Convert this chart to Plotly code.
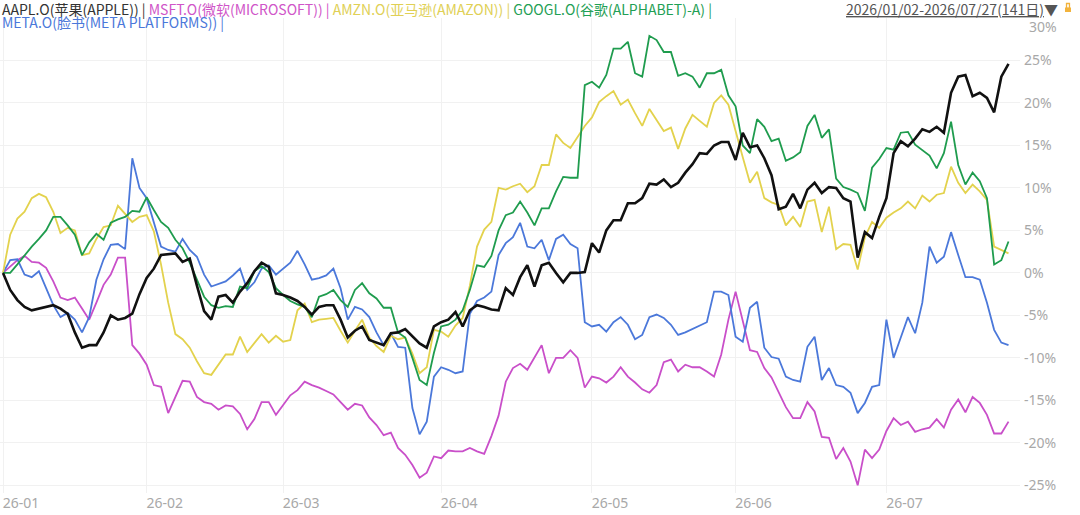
import pandas as pd
import plotly.graph_objects as go

# ── data: cumulative return (%) per trading day, 2026/01/02 – 2026/07/27 ─────
HOLIDAYS = ["2026-01-19", "2026-02-16", "2026-04-03", "2026-05-25", "2026-06-19", "2026-07-03"]

NAMES = ["AAPL.O(苹果(APPLE))", "MSFT.O(微软(MICROSOFT))", "AMZN.O(亚马逊(AMAZON))",
         "GOOGL.O(谷歌(ALPHABET)-A)", "META.O(脸书(META PLATFORMS))"]

AAPL = [0.0, -2.0, -3.2, -4.0, -4.4, -4.2, -4.0, -3.8, -4.2, -4.8,
        -7.0, -8.8, -8.5, -8.5, -7.0, -5.0, -5.5, -5.3, -4.8, -2.5,
        -0.6, 0.5, 2.1, 2.2, 2.3, 1.3, 1.7, -1.5, -4.5, -5.5,
        -2.8, -2.6, -3.5, -2.2, -1.2, 0.2, 1.2, 0.7, -2.4, -2.6,
        -2.9, -3.3, -4.0, -4.9, -4.0, -3.8, -3.8, -5.5, -7.6, -6.8,
        -6.3, -7.9, -8.2, -8.5, -7.1, -7.0, -6.6, -7.5, -8.3, -8.8,
        -6.3, -5.8, -5.5, -4.6, -6.3, -4.4, -3.8, -4.0, -4.3, -4.4,
        -1.8, -2.6, -0.5, 0.9, -1.6, 0.9, 1.2, 0.0, -1.1, 0.0,
        0.0, 0.1, 3.5, 2.4, 5.0, 6.2, 6.2, 8.2, 8.2, 8.8,
        10.5, 10.4, 11.0, 10.1, 10.6, 11.8, 12.8, 14.1, 14.0, 15.0,
        15.4, 15.4, 13.3, 16.5, 14.8, 15.0, 13.5, 11.5, 7.5, 7.8,
        9.3, 7.6, 9.8, 10.6, 9.4, 10.1, 10.0, 8.8, 8.4, 1.8,
        4.8, 4.1, 6.6, 8.8, 14.1, 15.5, 14.9, 15.8, 16.9, 16.6,
        17.2, 16.5, 21.2, 23.1, 23.3, 20.8, 21.2, 20.6, 18.9, 23.1,
        24.6]

MSFT = [0.0, 0.8, 1.5, 2.0, 1.3, 1.2, 0.6, -1.0, -2.9, -3.2,
        -2.9, -4.2, -5.5, -3.5, -1.4, -0.2, 1.8, 1.8, -8.5, -9.5,
        -10.8, -13.2, -13.4, -16.5, -14.6, -12.7, -12.8, -14.6, -15.2, -15.4,
        -16.1, -15.6, -15.7, -16.6, -18.4, -17.2, -15.2, -15.2, -16.7, -15.5,
        -14.4, -13.8, -12.8, -13.2, -13.5, -13.9, -14.3, -15.2, -16.1, -15.4,
        -15.6, -17.0, -17.9, -19.1, -18.8, -20.6, -21.4, -22.6, -24.1, -23.5,
        -21.6, -21.8, -20.9, -21.0, -21.0, -20.6, -21.0, -21.3, -19.2, -16.8,
        -12.8, -11.2, -10.7, -11.4, -10.0, -8.5, -11.8, -10.0, -10.0, -9.1,
        -10.0, -13.5, -12.2, -12.4, -12.9, -12.2, -11.1, -12.2, -12.9, -13.7,
        -14.1, -13.2, -10.5, -10.2, -11.6, -10.8, -11.1, -11.1, -11.6, -12.2,
        -9.6, -5.5, -2.2, -5.5, -9.1, -9.3, -11.2, -12.3, -14.1, -15.8,
        -17.1, -17.1, -15.2, -16.3, -19.3, -19.4, -21.9, -20.6, -22.2, -25.0,
        -20.8, -21.8, -20.8, -18.6, -17.1, -17.9, -17.5, -18.7, -18.4, -18.2,
        -17.2, -18.2, -16.1, -14.9, -16.4, -14.6, -15.3, -16.7, -18.9, -18.9,
        -17.5]

AMZN = [0.0, 4.5, 6.4, 7.2, 8.8, 9.3, 8.9, 7.2, 4.7, 5.3,
        5.0, 2.1, 2.3, 4.0, 5.4, 5.6, 7.9, 7.0, 6.0, 6.6,
        6.8, 4.9, 1.0, -3.5, -7.2, -7.8, -8.8, -10.4, -11.8, -12.0,
        -10.8, -9.6, -9.6, -7.5, -9.3, -8.2, -7.2, -8.2, -7.4, -8.1,
        -7.9, -4.4, -3.6, -5.8, -5.5, -5.4, -5.3, -6.8, -8.2, -6.8,
        -5.5, -7.6, -8.6, -9.3, -7.4, -7.8, -7.6, -9.5, -11.8, -11.1,
        -6.7, -6.9, -7.5, -6.2, -5.3, -1.5, 3.1, 5.1, 6.0, 10.0,
        9.8, 10.2, 10.5, 9.5, 10.2, 12.7, 12.7, 16.3, 15.3, 14.7,
        16.0, 17.3, 18.3, 20.1, 20.8, 21.4, 19.8, 20.4, 18.8, 17.3,
        19.3, 18.0, 16.7, 17.1, 14.6, 17.0, 18.6, 17.9, 17.2, 20.0,
        20.9, 19.8, 16.6, 13.6, 10.6, 11.9, 8.8, 8.3, 8.0, 5.6,
        6.6, 5.4, 8.4, 8.6, 4.8, 7.8, 2.8, 3.4, 3.3, 0.4,
        4.2, 6.0, 5.3, 6.5, 7.1, 7.6, 8.4, 7.6, 9.1, 8.4,
        9.2, 9.4, 12.5, 10.6, 9.4, 10.4, 9.6, 8.6, 3.1, 2.7,
        2.3]

GOOGL = [0.0, 0.0, 1.0, 2.1, 3.1, 4.0, 5.0, 6.6, 6.6, 5.6,
         4.5, 2.1, 3.6, 4.6, 3.9, 5.9, 6.3, 6.6, 7.3, 7.2,
         8.9, 7.4, 6.0, 5.3, 3.9, 2.9, 1.2, -0.8, -2.8, -3.8,
         -4.1, -3.9, -4.0, -1.6, -1.8, 0.2, 0.8, 0.1, -1.8, -2.6,
         -3.3, -3.7, -4.0, -5.2, -2.8, -2.5, -2.0, -3.2, -4.0, -2.0,
         -1.2, -2.4, -3.0, -4.1, -4.1, -7.0, -7.6, -10.0, -12.6, -13.2,
         -9.4, -6.3, -6.1, -5.5, -4.4, -2.0, 0.9, 0.7, 2.0, 5.0,
         6.8, 7.1, 8.4, 7.1, 5.6, 7.6, 7.6, 9.6, 11.3, 11.2,
         11.2, 22.1, 22.5, 21.8, 23.3, 26.4, 26.4, 27.2, 23.5, 23.1,
         27.9, 27.4, 26.0, 26.0, 23.2, 23.5, 23.1, 21.8, 23.5, 23.5,
         23.9, 20.9, 19.6, 15.0, 14.1, 18.1, 17.2, 15.5, 15.8, 13.2,
         13.6, 14.2, 17.3, 18.6, 15.9, 16.9, 11.1, 10.1, 9.8, 9.4,
         7.3, 12.4, 13.4, 14.7, 14.5, 16.5, 16.6, 15.1, 14.4, 13.8,
         12.3, 14.1, 17.8, 12.7, 10.4, 11.8, 10.8, 8.8, 1.0, 1.5,
         3.7]

META = [0.0, 1.5, 1.6, -0.2, -0.5, 0.2, -1.8, -3.8, -5.2, -4.7,
        -5.5, -7.0, -5.2, -0.8, 1.6, 3.3, 3.4, 2.8, 13.5, 10.0,
        8.8, 6.0, 3.1, 2.7, 2.5, 4.0, 2.7, 1.9, -0.2, -1.6,
        -1.3, -1.0, -0.3, 0.5, -2.0, -1.1, 0.5, 0.9, -0.2, 0.5,
        1.2, 2.6, 1.0, -0.8, -0.6, -0.3, 0.5, -1.8, -5.5, -4.0,
        -4.3, -5.2, -7.0, -8.5, -7.1, -8.7, -8.8, -15.9, -19.0, -17.5,
        -12.2, -11.1, -11.4, -11.8, -11.6, -4.8, -3.3, -2.9, -2.2, 2.1,
        3.5, 4.2, 5.9, 3.1, 2.9, 3.9, 1.5, 4.0, 4.5, 3.4,
        2.9, -5.8, -6.3, -6.1, -6.9, -5.8, -5.2, -6.1, -7.8, -7.3,
        -5.2, -4.9, -5.3, -6.1, -7.3, -7.0, -6.6, -6.2, -5.8, -2.2,
        -2.2, -2.6, -7.5, -8.1, -4.1, -3.4, -8.8, -9.9, -10.1, -12.2,
        -12.6, -12.8, -8.7, -7.5, -12.6, -11.2, -13.2, -13.4, -14.1, -16.5,
        -15.3, -13.4, -13.2, -5.5, -10.0, -7.6, -5.2, -7.1, -3.5, 3.1,
        1.2, 1.9, 4.8, 2.1, -0.5, -0.5, -0.8, -3.5, -6.7, -8.2,
        -8.5]

Y_TICKS = [25, 20, 15, 10, 5, 0, -5, -10, -15, -20, -25]

LINE_COLORS = ["#111111", "#C94FC9", "#E3D24D", "#1F9C4E", "#4B78DA"]
TEXT_COLORS = ["#333333", "#D055C8", "#E0D055", "#1FA055", "#4B78DA"]

# ── trading calendar ──────────────────────────────────────────────────────────
days = [d for d in pd.bdate_range("2026-01-02", "2026-07-27")
        if d.strftime("%Y-%m-%d") not in HOLIDAYS]
dates = [d.strftime("%Y-%m-%d") for d in days]
month_starts = [dates[i] for i in range(len(days)) if i == 0 or days[i].month != days[i - 1].month]
month_text = [pd.Timestamp(d).strftime("%y-%m") for d in month_starts]

fig = go.Figure()
series = [MSFT, META, AMZN, GOOGL, AAPL]
order = [1, 4, 2, 3, 0]
for vals, k in zip(series, order):
    fig.add_trace(go.Scatter(x=dates, y=vals, mode="lines", name=NAMES[k],
                             line=dict(color=LINE_COLORS[k], width=2.6 if k == 0 else 1.8),
                             showlegend=False))

TICK_FONT = dict(family="Noto Sans", size=14, color="#A8A8A8")

fig.update_layout(
    width=1080, height=515, autosize=False,
    paper_bgcolor="#FFFFFF", plot_bgcolor="#FFFFFF",
    margin=dict(l=0, r=60, t=18, b=22),
    xaxis=dict(type="category", range=[-0.42, 141.6], tickmode="array",
               tickvals=month_starts, ticktext=month_text, showgrid=True,
               gridcolor="#F1F1F1", gridwidth=1, zeroline=False, showline=False,
               ticks="", tickfont=TICK_FONT, ticklabelshift=18),
    yaxis=dict(side="right", range=[-25.9, 30], tickmode="array",
               tickvals=Y_TICKS, ticktext=[f"{v}%" for v in Y_TICKS],
               showgrid=True, gridcolor="#F1F1F1", gridwidth=1, zeroline=False,
               showline=False, ticks="", tickfont=TICK_FONT, ticklabelstandoff=3),
    hovermode=False,
)

# series legend written as coloured text, two rows
row1 = "".join(f'<span style="color:{TEXT_COLORS[k]}">{NAMES[k]} | </span>' for k in range(4)).rstrip()
row2 = f'<span style="color:{TEXT_COLORS[4]}">{NAMES[4]} |</span>'
LEG_FONT = dict(family="Noto Sans CJK SC", size=14)
fig.add_annotation(x=0, y=1.0185, xref="paper", yref="paper", text=row1, showarrow=False,
                   xanchor="left", yanchor="middle", font=LEG_FONT)
fig.add_annotation(x=0, y=0.9925, xref="paper", yref="paper", text=row2, showarrow=False,
                   xanchor="left", yanchor="middle", font=LEG_FONT)

# date range selector text + lock
fig.add_annotation(x=1.0392, y=1.0185, xref="paper", yref="paper",
                   text="<u>2026/01/02-2026/07/27(141日)</u>▼", showarrow=False,
                   xanchor="right", yanchor="middle",
                   font=dict(family="Noto Sans CJK SC", size=14, color="#555555"))
fig.add_shape(type="rect", xref="paper", yref="paper", x0=1.0441, x1=1.05,
              y0=1.0126, y1=1.0221, fillcolor="#F2B33D", line=dict(width=0))
fig.add_shape(type="rect", xref="paper", yref="paper", x0=1.0456, x1=1.0485,
              y0=1.020, y1=1.0305, fillcolor="rgba(0,0,0,0)", line=dict(color="#F2B33D", width=1.3))

# top tick label sits a little inside the plot
fig.add_annotation(x=1.0069, y=0.983, xref="paper", yref="paper", text="30%", showarrow=False,
                   xanchor="left", yanchor="middle", font=TICK_FONT)

fig.write_html("out.html", config={"displayModeBar": False},
               post_script="document.body.style.margin='0px';")
